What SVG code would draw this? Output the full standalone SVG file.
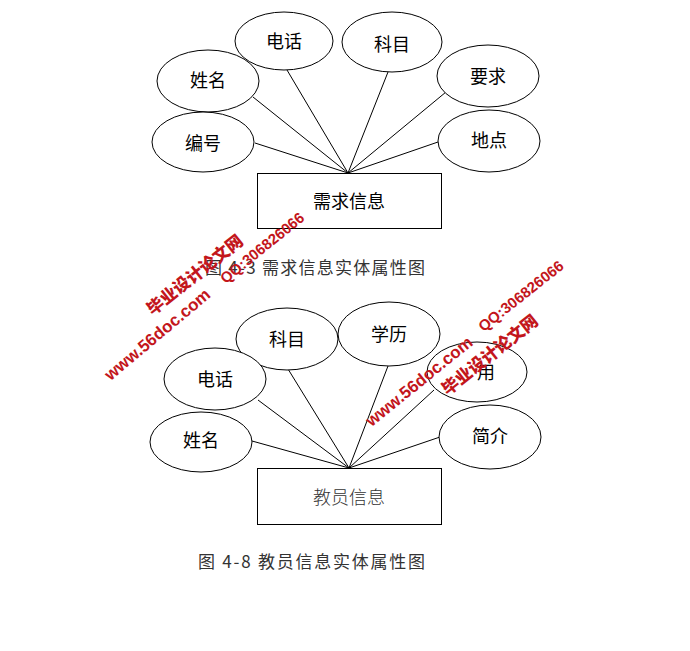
<svg xmlns="http://www.w3.org/2000/svg" width="690" height="651" viewBox="0 0 690 651">
<style>
.attr{fill:#fff;stroke:#000;stroke-width:1}
.ent{fill:#fff;stroke:#000;stroke-width:1}
.lbl{font-family:"Noto Sans CJK SC","Noto Sans",sans-serif;font-size:18px;fill:#000;text-anchor:middle;dominant-baseline:central}
.ent2{font-family:"Noto Sans CJK SC","Noto Sans",sans-serif;font-size:18px;font-weight:300;fill:#333;text-anchor:middle;dominant-baseline:central}
.cap{font-family:"Noto Sans CJK SC","Noto Sans",sans-serif;font-size:17px;font-weight:400;fill:#333;dominant-baseline:central}
.conn line{stroke:#000;stroke-width:1}
.wm{font-family:"Liberation Sans","Noto Sans CJK SC",sans-serif;font-weight:bold;fill:#c3161c;dominant-baseline:central}
.wmc{font-family:"Noto Sans CJK SC",sans-serif;font-weight:900;fill:#c3161c;dominant-baseline:central}
</style>
<rect width="690" height="651" fill="#fff"/>

<!-- Diagram 1 connectors -->
<g id="connectors1" class="conn">
<line x1="255" y1="143" x2="348" y2="173"/>
<line x1="253" y1="97" x2="348" y2="173"/>
<line x1="287" y1="70" x2="348" y2="173"/>
<line x1="388" y1="72" x2="348" y2="173"/>
<line x1="446" y1="92" x2="348" y2="173"/>
<line x1="438" y1="142" x2="348" y2="173"/>
</g>

<g id="n1_dianhua"><ellipse class="attr" cx="284" cy="41" rx="49" ry="29"/><text class="lbl" x="284" y="40">电话</text></g>
<g id="n1_kemu"><ellipse class="attr" cx="392" cy="42" rx="50" ry="30"/><text class="lbl" x="392" y="43">科目</text></g>
<g id="n1_xingming"><ellipse class="attr" cx="208" cy="81" rx="51" ry="31"/><text class="lbl" x="208" y="79">姓名</text></g>
<g id="n1_yaoqiu"><ellipse class="attr" cx="488" cy="76" rx="51" ry="31"/><text class="lbl" x="488" y="75">要求</text></g>
<g id="n1_bianhao"><ellipse class="attr" cx="203" cy="142" rx="51" ry="30"/><text class="lbl" x="203" y="142">编号</text></g>
<g id="n1_didian"><ellipse class="attr" cx="489" cy="141" rx="51" ry="31"/><text class="lbl" x="489" y="139">地点</text></g>
<g id="e1_xuqiu"><rect class="ent" x="257.5" y="173.5" width="184" height="55"/><text class="lbl" x="349" y="200">需求信息</text></g>

<text id="cap1" class="cap" x="205" y="266" textLength="220" lengthAdjust="spacing">图 4-3 需求信息实体属性图</text>

<!-- Diagram 2 connectors -->
<g id="connectors2" class="conn">
<line x1="252" y1="441" x2="349" y2="468"/>
<line x1="258" y1="400" x2="349" y2="468"/>
<line x1="288" y1="369" x2="349" y2="468"/>
<line x1="388" y1="366" x2="349" y2="468"/>
<line x1="434" y1="390" x2="349" y2="468"/>
<line x1="440" y1="437" x2="349" y2="468"/>
</g>

<g id="n2_kemu"><ellipse class="attr" cx="287" cy="339" rx="51" ry="31"/><text class="lbl" x="287" y="338">科目</text></g>
<g id="n2_xueli"><ellipse class="attr" cx="389" cy="334" rx="51" ry="32"/><text class="lbl" x="389" y="333">学历</text></g>
<g id="n2_dianhua"><ellipse class="attr" cx="215" cy="379" rx="51" ry="31"/><text class="lbl" x="215" y="378">电话</text></g>
<g id="n2_feiyong"><ellipse class="attr" cx="477" cy="372" rx="50" ry="30"/><text class="lbl" x="486" y="371">用</text></g>
<g id="n2_xingming"><ellipse class="attr" cx="201" cy="442" rx="51" ry="30"/><text class="lbl" x="201" y="439">姓名</text></g>
<g id="n2_jianjie"><ellipse class="attr" cx="490" cy="437" rx="51" ry="32"/><text class="lbl" x="490" y="435">简介</text></g>
<g id="e2_jiaoyuan"><rect class="ent" x="257.5" y="468.5" width="184" height="56"/><text class="ent2" x="349" y="496">教员信息</text></g>

<text id="cap2" class="cap" x="198" y="560" textLength="227" lengthAdjust="spacing">图 4-8 教员信息实体属性图</text>

<!-- Watermarks -->
<g id="watermark1">
<text class="wmc" font-size="17" transform="translate(148,310) rotate(-38.4)" textLength="117" lengthAdjust="spacingAndGlyphs">毕业设计论文网</text>
<text class="wm" font-size="17" transform="translate(107,377) rotate(-40)" textLength="132" lengthAdjust="spacingAndGlyphs">www.56doc.com</text>
<text class="wm" font-size="15" transform="translate(222,280) rotate(-39)" textLength="103" lengthAdjust="spacingAndGlyphs">QQ:306826066</text>
</g>
<g id="watermark2">
<text class="wm" font-size="17" transform="translate(368,423) rotate(-39)" textLength="132" lengthAdjust="spacingAndGlyphs">www.56doc.com</text>
<text class="wmc" font-size="17" transform="translate(443,390) rotate(-38.4)" textLength="117" lengthAdjust="spacingAndGlyphs">毕业设计论文网</text>
<text class="wm" font-size="15" transform="translate(480,328) rotate(-38.4)" textLength="104" lengthAdjust="spacingAndGlyphs">QQ:306826066</text>
</g>
</svg>
